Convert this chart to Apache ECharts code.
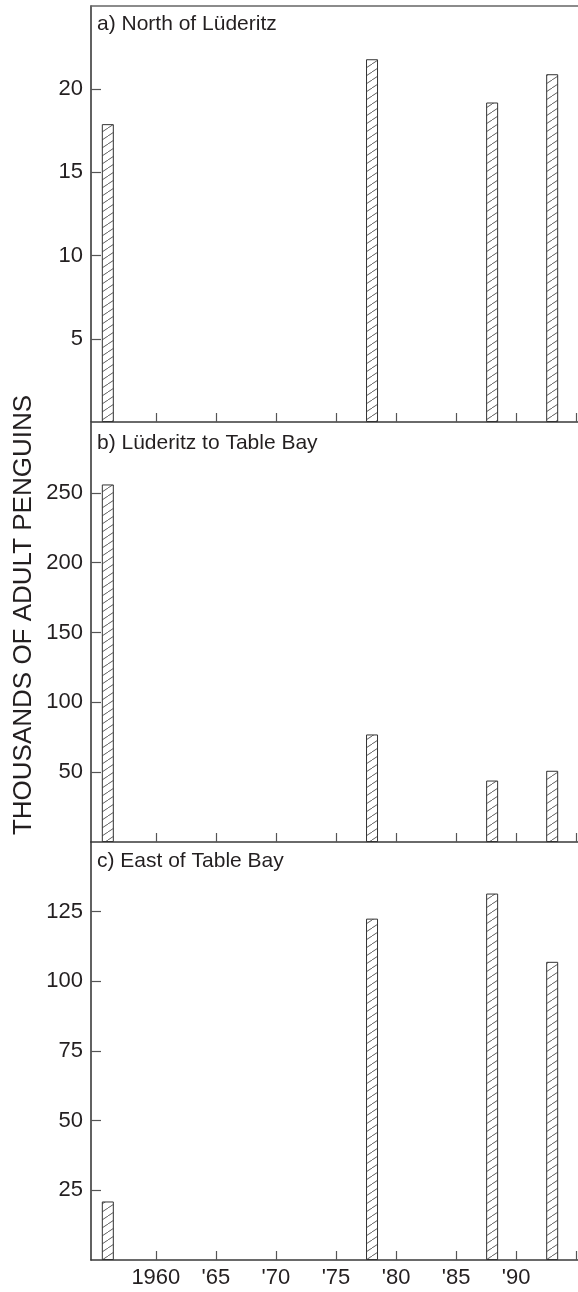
<!DOCTYPE html>
<html>
<head>
<meta charset="utf-8">
<script src="https://cdn.jsdelivr.net/npm/echarts@6/dist/echarts.min.js"></script>
<style>
  html, body { margin: 0; padding: 0; background: #fff; }
  #chart { width: 578px; height: 1292px; }
</style>
</head>
<body>
<div id="chart"></div>
<script>
// Survey years and adult penguin counts (thousands) per region
const years = [1956, 1978, 1988, 1993];
const northOfLuderitz = [17.9, 21.8, 19.2, 20.9];
const luderitzToTableBay = [256, 77, 44, 51];
const eastOfTableBay = [21, 122.5, 131.5, 107];

// Year axis ticks and their labels
const xTickYears = [1960, 1965, 1970, 1975, 1980, 1985, 1990, 1995];
const xLabelYears = [1960, 1965, 1970, 1975, 1980, 1985, 1990];
const xLabelTexts = ['1960', "'65", "'70", "'75", "'80", "'85", "'90"];

const panelTitles = ['a) North of Lüderitz', 'b) Lüderitz to Table Bay', 'c) East of Table Bay'];
const yMax = [25, 300, 150];
const yStep = [5, 50, 25];
const yTitle = 'THOUSANDS OF ADULT PENGUINS';

const FONT = '"Liberation Sans", Arial, Helvetica, sans-serif';
const INK = '#231f20';
const LINE = '#3a3a3a';

// Diagonal hatch fill for the bars
function hatchPattern() {
  const c = document.createElement('canvas');
  c.width = 12; c.height = 8;
  const g = c.getContext('2d');
  g.strokeStyle = '#333';
  g.lineWidth = 0.8;
  g.beginPath();
  g.moveTo(-3, 10); g.lineTo(15, -2);
  g.stroke();
  return c;
}
const hatch = { image: hatchPattern(), repeat: 'repeat' };

const grids = [
  { left: 91, right: 0, top: 6, height: 416 },
  { left: 91, right: 0, top: 423, height: 419 },
  { left: 91, right: 0, top: 842, height: 418 }
];

const X_MIN = 1954.6, X_MAX = 1995.15;

function xAxisFor(i) {
  return {
    type: 'value', gridIndex: i, min: X_MIN, max: X_MAX,
    axisLine: { show: true, onZero: false, lineStyle: { color: LINE, width: 1.6 } },
    axisTick: { show: true, inside: true, length: 9, customValues: xTickYears,
                lineStyle: { color: '#555', width: 1.2 } },
    axisLabel: {
      show: i === 2, customValues: xLabelYears, margin: 7,
      fontFamily: FONT, fontSize: 22, color: INK,
      formatter: v => xLabelTexts[xLabelYears.indexOf(Math.round(v))] || ''
    },
    splitLine: { show: false }
  };
}

function yAxisFor(i) {
  return {
    type: 'value', gridIndex: i, min: 0, max: yMax[i], interval: yStep[i],
    axisLine: { show: true, lineStyle: { color: LINE, width: 1.6 } },
    axisTick: { show: true, inside: true, length: 10, lineStyle: { color: '#555', width: 1.2 } },
    axisLabel: { margin: 8, fontFamily: FONT, fontSize: 22, color: INK,
                 showMinLabel: false, showMaxLabel: false },
    splitLine: { show: false }
  };
}

const seriesData = [northOfLuderitz, luderitzToTableBay, eastOfTableBay];

const option = {
  backgroundColor: '#fff',
  animation: false,
  title: panelTitles.map((t, i) => ({
    text: t, left: 97, top: [12, 431, 849][i], padding: 0,
    textStyle: { fontFamily: FONT, fontSize: 21, fontWeight: 'normal', color: INK, lineHeight: 24 }
  })),
  // shared vertical axis title
  graphic: [{
    type: 'text', x: 24, y: 615, rotation: Math.PI / 2,
    style: { text: yTitle, fontFamily: FONT, fontSize: 26, fill: INK,
             align: 'center', verticalAlign: 'middle' }
  }],
  grid: grids,
  xAxis: [xAxisFor(0), xAxisFor(1), xAxisFor(2),
    // top frame line of the first panel
    { type: 'value', gridIndex: 0, position: 'top', min: X_MIN, max: X_MAX,
      axisLine: { show: true, onZero: false, lineStyle: { color: '#666', width: 1.6 } },
      axisTick: { show: false }, axisLabel: { show: false }, splitLine: { show: false } }
  ],
  yAxis: [yAxisFor(0), yAxisFor(1), yAxisFor(2)],
  series: seriesData.map((vals, i) => ({
    type: 'bar', xAxisIndex: i, yAxisIndex: i,
    barWidth: 12,
    data: years.map((y, k) => [y, vals[k]]),
    itemStyle: { color: hatch, borderColor: '#333', borderWidth: 1 }
  }))
};

const chart = echarts.init(document.getElementById('chart'), null, { renderer: 'canvas' });
chart.setOption(option);
</script>
</body>
</html>
